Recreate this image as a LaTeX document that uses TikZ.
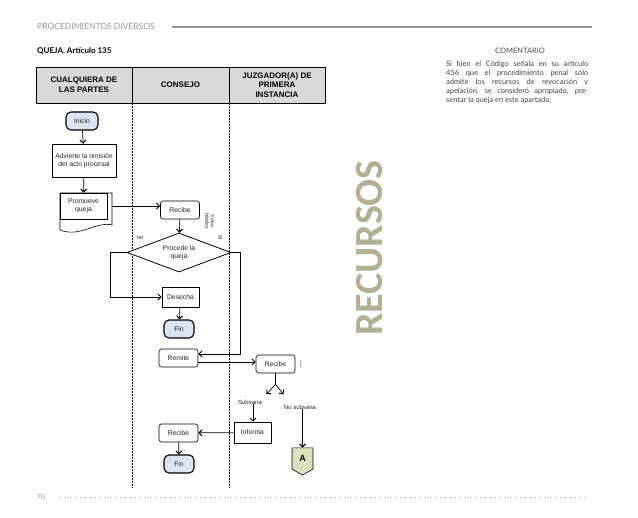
\documentclass[tikz,border=0pt]{standalone}
\usepackage{fontspec}
\setmainfont{Liberation Sans}
\newfontfamily\pagefont{Lato}
\newfontfamily\bigfont{Carlito}
\definecolor{TermBlue}{RGB}{219,229,241}
\definecolor{ConnGreen}{RGB}{215,228,189}
\definecolor{HeadGray}{RGB}{217,217,217}
\definecolor{PageGray}{RGB}{150,150,150}
\definecolor{StampBeige}{RGB}{180,176,148}
\usetikzlibrary{arrows.meta,positioning,calc,shapes.geometric,shapes.symbols}

\begin{document}
\begin{tikzpicture}[x=1pt,y=-1pt,
  >={Straight Barb[length=3pt,width=6pt,line width=1pt]},
  flow/.style={font=\fontsize{6.8}{8.5}\selectfont, align=center, inner sep=0pt, text=black!85},
  term/.style={flow, draw, line width=1.1pt, rounded corners=5pt, fill=TermBlue, minimum width=30pt, minimum height=18pt},
  proc/.style={flow, draw, line width=0.6pt, fill=white},
  rproc/.style={proc, rounded corners=2.5pt, minimum width=39pt, minimum height=18pt},
  small/.style={flow, font=\fontsize{6}{7}\selectfont},
  conn/.style={line width=0.7pt}]
\useasboundingbox (0,0) rectangle (638,518);

% cabecera de la pagina
\node[font=\pagefont\fontsize{8.5}{8.5}\selectfont, text=PageGray, anchor=west, inner sep=0pt] (seccion) at (37,26) {PROCEDIMIENTOS DIVERSOS};
\draw[PageGray, line width=1.5pt] (172,27) -- (592,27);
\node[font=\pagefont\bfseries\fontsize{8}{8}\selectfont, anchor=west, inner sep=0pt] (titulo) at (37,51) {QUEJA. Artículo 135};

% comentario
\node[font=\pagefont\fontsize{7.5}{7.5}\selectfont, text=black!70] (coment) at (520,51) {COMENTARIO};
\node[font=\pagefont\fontsize{7.4}{9}\selectfont, text=black!75, text width=142pt, align=justify, anchor=north west, inner sep=0pt] (nota) at (446,61)
  {Si bien el Código señala en su artículo\linebreak 456 que el procedimiento penal sólo\linebreak admite los recursos de revocación y\linebreak apelación, se consideró apropiado, pre-\linebreak sentar la queja en este apartado.};

% encabezado de columnas
\draw[fill=HeadGray, line width=0.9pt] (36,67) rectangle (325,103);
\draw[line width=0.6pt] (132,67) -- (132,103) (229,67) -- (229,103);
\draw[densely dotted, line width=0.5pt] (132,103) -- (132,488) (229,103) -- (229,488);
\node[font=\bfseries\fontsize{8}{9.5}\selectfont, align=center] (hpartes) at (84,85) {CUALQUIERA DE\\LAS PARTES};
\node[font=\bfseries\fontsize{8}{9.5}\selectfont, align=center] (hconsejo) at (180.5,85) {CONSEJO};
\node[font=\bfseries\fontsize{8}{9.5}\selectfont, align=center] (hjuzgador) at (277,85) {JUZGADOR(A) DE\\PRIMERA\\INSTANCIA};

% cualquiera de las partes
\node[term, minimum width=32pt] (inicio) at (82,121) {Inicio};
\node[proc, minimum width=64pt, minimum height=33pt] (advierte) at (84,160.5) {Advierte la omisión\\del acto procesal};
\draw[line width=0.6pt, fill=white] (60,193) -- (112,193) -- (112,225) .. controls (96,221) and (80,238) .. (60,230) -- cycle;
\node[proc, minimum width=47pt, minimum height=26pt] (promueve) at (83.5,206) {Promueve\\queja};

% consejo
\node[rproc] (recibe1) at (180,210) {Recibe};
\node[flow, font=\fontsize{5}{5.5}\selectfont, rotate=-90] (dias1) at (210,221) {3 días\\hábiles};
\node[flow, draw, diamond, aspect=2.67, line width=0.8pt, fill=white, minimum width=104pt, minimum height=39pt] (procede) at (179,252.5) {Procede la\\queja};
\node[small] (lno) at (140,238) {no};
\node[small, rotate=-90] (lsi) at (221,238) {si};
\node[proc, minimum width=37pt, minimum height=20pt] (desecha) at (180.5,297) {Desecha};
\node[term] (fin1) at (179,329) {Fin};
\node[rproc] (remite) at (178.5,358) {Remite};
\node[rproc] (recibe3) at (178.5,433) {Recibe};
\node[term] (fin2) at (179,464) {Fin};

% juzgador
\node[rproc] (recibe2) at (275.5,364) {Recibe};
\node[flow, font=\fontsize{2.5}{3}\selectfont, rotate=-90] (dias2) at (301,364) {3 días};
\node[small] (subsana) at (250,402) {Subsana};
\node[small] (nosubsana) at (300,407) {No subsana};
\node[proc, minimum width=37pt, minimum height=21pt] (informa) at (252.5,432.5) {Informa};
\node[draw, signal, signal to=south, signal pointer angle=120, fill=ConnGreen, line width=0.6pt,
  minimum width=21pt, minimum height=23pt, inner sep=0pt, font=\bfseries\fontsize{9}{9}\selectfont] (offa) at (302.5,458.5) {A};

% conectores
\draw[conn,->] (inicio) -- (advierte);
\draw[conn,->] (advierte) -- (promueve);
\draw[conn,->] ([xshift=5pt]promueve.east) -- (promueve.east -| recibe1.west);
\draw[conn,->] (recibe1) -- (procede);
\draw[conn,->] (procede.west) -- ++(-16,0) |- (desecha.west);
\draw[conn,->] (desecha) -- (fin1);
\draw[conn,->] (procede.east) -- ++(9,0) |- ([yshift=4pt]remite.east);
\draw[conn,->] ([yshift=-4pt]remite.east) -- ([yshift=-4pt]remite.east -| recibe2.west);
\coordinate (fork) at ($(recibe2.south)+(0,11)$);
\coordinate (forkl) at ($(fork)+(-9,10)$);
\coordinate (forkr) at ($(fork)+(8,10)$);
\draw[conn] (recibe2) -- (fork);
\draw[conn,->] (fork) -- (forkl);
\draw[conn,->] (fork) -- (forkr);
\draw[conn,->] ([xshift=3pt]subsana.south) -- ([xshift=3pt]subsana.south |- informa.north);
\draw[conn,->] (nosubsana.south -| offa) -- (offa.north);
\draw[conn,->] (informa) -- (recibe3);
\draw[conn,->] (recibe3) -- (fin2);

% sello lateral
\node[font=\bigfont\bfseries\fontsize{40}{40}\selectfont, text=StampBeige, rotate=90] (recursos) at (370,248) {RECURSOS};

% pie de pagina
\node[font=\pagefont\fontsize{7}{7}\selectfont, text=PageGray] (pagina) at (41,497) {70};
\draw[PageGray, line width=1pt, dash pattern=on 1pt off 4pt] (60,498) -- (590,498);
\end{tikzpicture}
\end{document}
